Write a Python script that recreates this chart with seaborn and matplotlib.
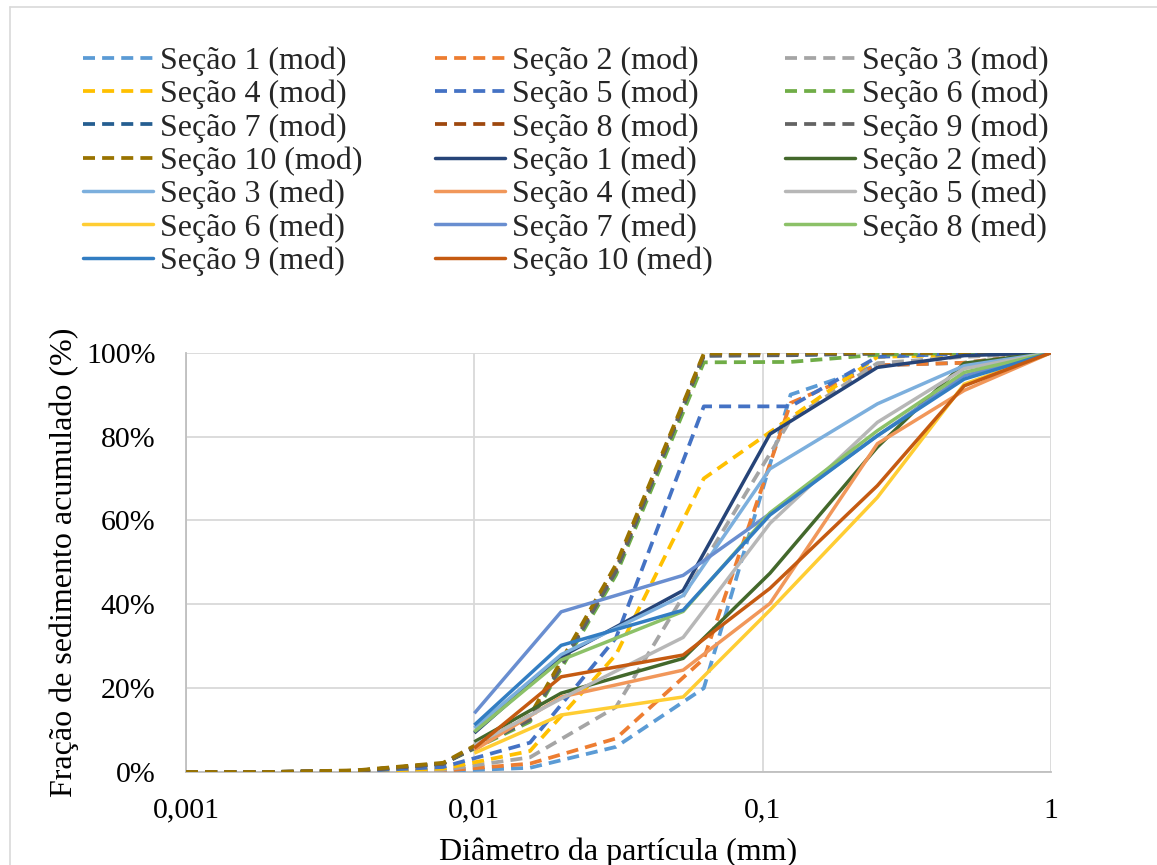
import matplotlib
matplotlib.use("Agg")
import matplotlib.pyplot as plt
from matplotlib.lines import Line2D
from matplotlib.ticker import FixedLocator, FuncFormatter, NullLocator
import numpy as np
import pandas as pd
import seaborn as sns

# Particle diameters (mm)
diam_mod = [0.001, 0.00195, 0.0039, 0.0078, 0.0156, 0.031, 0.0625, 0.125, 0.25, 0.5, 1.0]
diam_med = [0.01, 0.02, 0.053, 0.106, 0.25, 0.5, 1.0]

# Cumulative sediment fraction (%) - modelled curves
mod_1 = [0, 0, 0, 0.2, 1.0, 6.0, 20.0, 90.0, 97.0, 97.6, 100]
mod_2 = [0, 0, 0, 0.3, 2.0, 8.0, 27.0, 88.0, 97.0, 97.6, 100]
mod_3 = [0, 0, 0.1, 0.5, 3.5, 15.5, 50.0, 84.0, 97.5, 99.0, 100]
mod_4 = [0, 0, 0.1, 0.8, 5.0, 28.0, 70.0, 84.5, 99.0, 99.5, 100]
mod_5 = [0, 0, 0.2, 1.2, 7.0, 32.0, 87.2, 87.2, 99.0, 99.8, 100]
mod_6 = [0, 0, 0.3, 2.0, 12.0, 47.0, 97.7, 97.8, 99.5, 100, 100]
mod_7 = [0, 0, 0.3, 2.0, 12.5, 48.0, 99.3, 99.4, 99.8, 100, 100]
mod_8 = [0, 0, 0.3, 2.0, 13.0, 48.5, 99.5, 99.6, 99.9, 100, 100]
mod_9 = [0, 0, 0.3, 2.0, 12.5, 48.0, 99.3, 99.5, 99.9, 100, 100]
mod_10 = [0, 0, 0.4, 2.2, 13.5, 49.5, 99.8, 99.9, 100, 100, 100]

# Cumulative sediment fraction (%) - measured curves
med_1 = [9.3, 27.5, 43.3, 80.6, 96.5, 99.3, 100]
med_2 = [7.2, 18.8, 27.1, 47.4, 77.5, 97.5, 100]
med_3 = [10.5, 28.0, 42.1, 72.3, 87.8, 96.9, 100]
med_4 = [5.2, 17.9, 24.3, 40.2, 78.3, 91.0, 100]
med_5 = [6.4, 17.5, 32.1, 59.3, 83.4, 96.2, 100]
med_6 = [4.5, 13.6, 17.9, 38.6, 65.5, 92.5, 100]
med_7 = [14.0, 38.2, 46.9, 61.6, 80.2, 94.5, 100]
med_8 = [9.6, 26.7, 38.3, 61.8, 81.4, 95.3, 100]
med_9 = [11.2, 30.2, 38.6, 61.3, 80.2, 93.7, 100]
med_10 = [5.7, 22.7, 27.9, 43.8, 68.3, 92.1, 100]

mod_series = [mod_1, mod_2, mod_3, mod_4, mod_5, mod_6, mod_7, mod_8, mod_9, mod_10]
med_series = [med_1, med_2, med_3, med_4, med_5, med_6, med_7, med_8, med_9, med_10]

mod_colors = ["#5B9BD5", "#ED7D31", "#A5A5A5", "#FFC000", "#4472C4",
              "#70AD47", "#255E91", "#9E480E", "#636363", "#997300"]
med_colors = ["#264478", "#43682B", "#7CAFDD", "#F1975A", "#B7B7B7",
              "#FFCD33", "#698ED0", "#8CC168", "#327DC2", "#C55A11"]

x_ticks = [0.001, 0.01, 0.1, 1]
x_tick_labels = ["0,001", "0,01", "0,1", "1"]
y_ticks = [0, 20, 40, 60, 80, 100]

sns.set_theme(style="white")
plt.rcParams["font.family"] = ["Liberation Serif", "DejaVu Serif"]
FS_TICK = 21.5
FS_TEXT = 23

fig = plt.figure(figsize=(11.57, 8.65), dpi=100)
ax = fig.add_axes([186 / 1157, 1 - 772 / 865, (1051 - 186) / 1157, (772 - 352.7) / 865])

LW_MOD = 2.7
LW_MED = 2.5
DASH = (3.2, 1.9)

rows = []
for i, vals in enumerate(mod_series):
    for d, v in zip(diam_mod, vals):
        rows.append({"serie": f"Seção {i + 1} (mod)", "d": d, "f": v})
for i, vals in enumerate(med_series):
    for d, v in zip(diam_med, vals):
        rows.append({"serie": f"Seção {i + 1} (med)", "d": d, "f": v})
df = pd.DataFrame(rows)

labels = [f"Seção {i + 1} (mod)" for i in range(10)] + [f"Seção {i + 1} (med)" for i in range(10)]
colors = mod_colors + med_colors

handles = []
for k, lab in enumerate(labels):
    sub = df[df["serie"] == lab]
    is_mod = k < 10
    sns.lineplot(data=sub, x="d", y="f", ax=ax, color=colors[k], sort=False,
                 linewidth=LW_MOD if is_mod else LW_MED, legend=False,
                 zorder=3 + k)
    line = ax.lines[-1]
    if is_mod:
        line.set_dashes(DASH)
        line.set_dash_capstyle("butt")
    line.set_solid_capstyle("butt")
    h = Line2D([], [], color=colors[k], linewidth=LW_MOD if is_mod else LW_MED)
    if is_mod:
        h.set_dashes(DASH)
    handles.append(h)

ax.set_xscale("log")
ax.set_xlim(0.001, 1)
ax.set_ylim(0, 100)
ax.xaxis.set_major_locator(FixedLocator(x_ticks))
ax.xaxis.set_minor_locator(NullLocator())
ax.xaxis.set_major_formatter(FuncFormatter(lambda v, p: x_tick_labels[x_ticks.index(v)] if v in x_ticks else ""))
ax.yaxis.set_major_locator(FixedLocator(y_ticks))
ax.yaxis.set_major_formatter(FuncFormatter(lambda v, p: f"{v:.0f}%"))

ax.grid(True, which="major", color="#D9D9D9", linewidth=1.3)
ax.set_axisbelow(True)
for side in ["top", "right"]:
    ax.spines[side].set_visible(False)
for side in ["left", "bottom"]:
    ax.spines[side].set_color("#BFBFBF")
    ax.spines[side].set_linewidth(1.3)
ax.tick_params(axis="both", which="both", length=0, labelsize=FS_TICK, colors="black")
ax.tick_params(axis="y", which="major", pad=22)
ax.tick_params(axis="x", which="major", pad=18.5)

ax.set_xlabel("Diâmetro da partícula (mm)", fontsize=FS_TEXT, color="black", labelpad=10)
ax.set_ylabel("Fração de sedimento acumulado (%)", fontsize=FS_TEXT, color="black", labelpad=5)

# Legend filled row by row: 3 columns
order = []
for c in range(3):
    order += list(range(c, 20, 3))
leg = fig.legend([handles[i] for i in order], [labels[i] for i in order],
                 loc="upper left", bbox_to_anchor=(83 / 1157, 1 - 46.5 / 865),
                 ncol=3, frameon=False, fontsize=FS_TEXT, borderpad=0, borderaxespad=0,
                 handlelength=2.2, handletextpad=0.22, columnspacing=2.25,
                 labelspacing=0.12)

# Chart area border
fig.add_artist(Line2D([10 / 1157, 10 / 1157], [0, 1 - 7 / 865], transform=fig.transFigure,
                      color="#D9D9D9", linewidth=1.2))
fig.add_artist(Line2D([10 / 1157, 1], [1 - 7 / 865, 1 - 7 / 865], transform=fig.transFigure,
                      color="#D9D9D9", linewidth=1.2))

fig.savefig("out.png", dpi=100)
